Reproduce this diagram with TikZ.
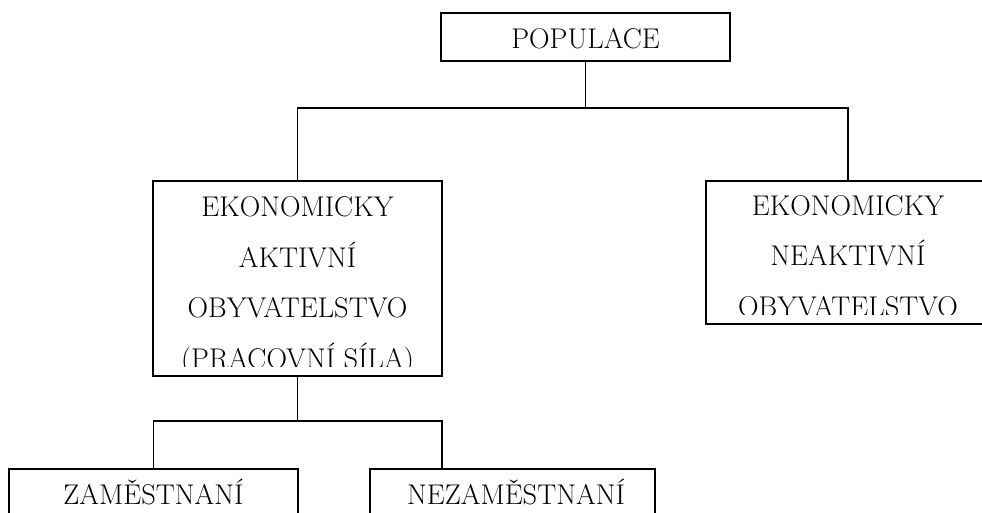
\documentclass[tikz,border=0pt]{standalone}
\usepackage{fontspec}
\begin{document}
\tikzset{
  box/.style={rectangle, draw=black, line width=1.8pt, anchor=north west, inner sep=0pt, outer sep=0pt},
  lbl/.style={font=\fontsize{28.5}{50.5}\selectfont, align=center, inner sep=0pt, anchor=base},
  conn/.style={line width=1.8pt}
}
\begin{tikzpicture}[x=1pt, y=-1pt]
\useasboundingbox (0,0) rectangle (982,513);
\fill[white] (0,0) rectangle (982,513);

\node[box, minimum width=289pt, minimum height=48pt] (pop) at (441,13) {};
\node[box, minimum width=289pt, minimum height=195pt] (akt) at (153,181) {};
\node[box, minimum width=284pt, minimum height=143pt] (neakt) at (706,181) {};
\node[box, minimum width=289pt, minimum height=80pt] (zam) at (9,469) {};
\node[box, minimum width=285pt, minimum height=80pt] (nezam) at (370,469) {};

% texty (posledni radek na zakladni care)
\node[lbl] (popt) at (585.5,49) {POPULACE};
\begin{scope}
\clip (akt.north west) rectangle (442,366);
\node[lbl] (aktt) at (297.5,368) {EKONOMICKY\\AKTIVNÍ\\OBYVATELSTVO\\(PRACOVNÍ SÍLA)};
\end{scope}
\begin{scope}
\clip (neakt.north west) rectangle (990,314);
\node[lbl] (neaktt) at (848,316) {EKONOMICKY\\NEAKTIVNÍ\\OBYVATELSTVO};
\end{scope}
\node[lbl] (zamt) at (153.5,504) {ZAMĚSTNANÍ};
\node[lbl] (nezamt) at (516,504) {NEZAMĚSTNANÍ};

\coordinate (lvl1) at (0,108);
\coordinate (lvl2) at (0,421);
\coordinate (split1) at (pop.south |- lvl1);
\coordinate (split2) at (akt.south |- lvl2);
\draw[conn] (pop.south) -- (split1) -| (akt.north);
\draw[conn] (split1) -| (neakt.north);
\draw[conn] (akt.south) -- (split2) -| (zam.north);
\draw[conn] (split2) -| (nezam.north -| akt.east);
\end{tikzpicture}
\end{document}
